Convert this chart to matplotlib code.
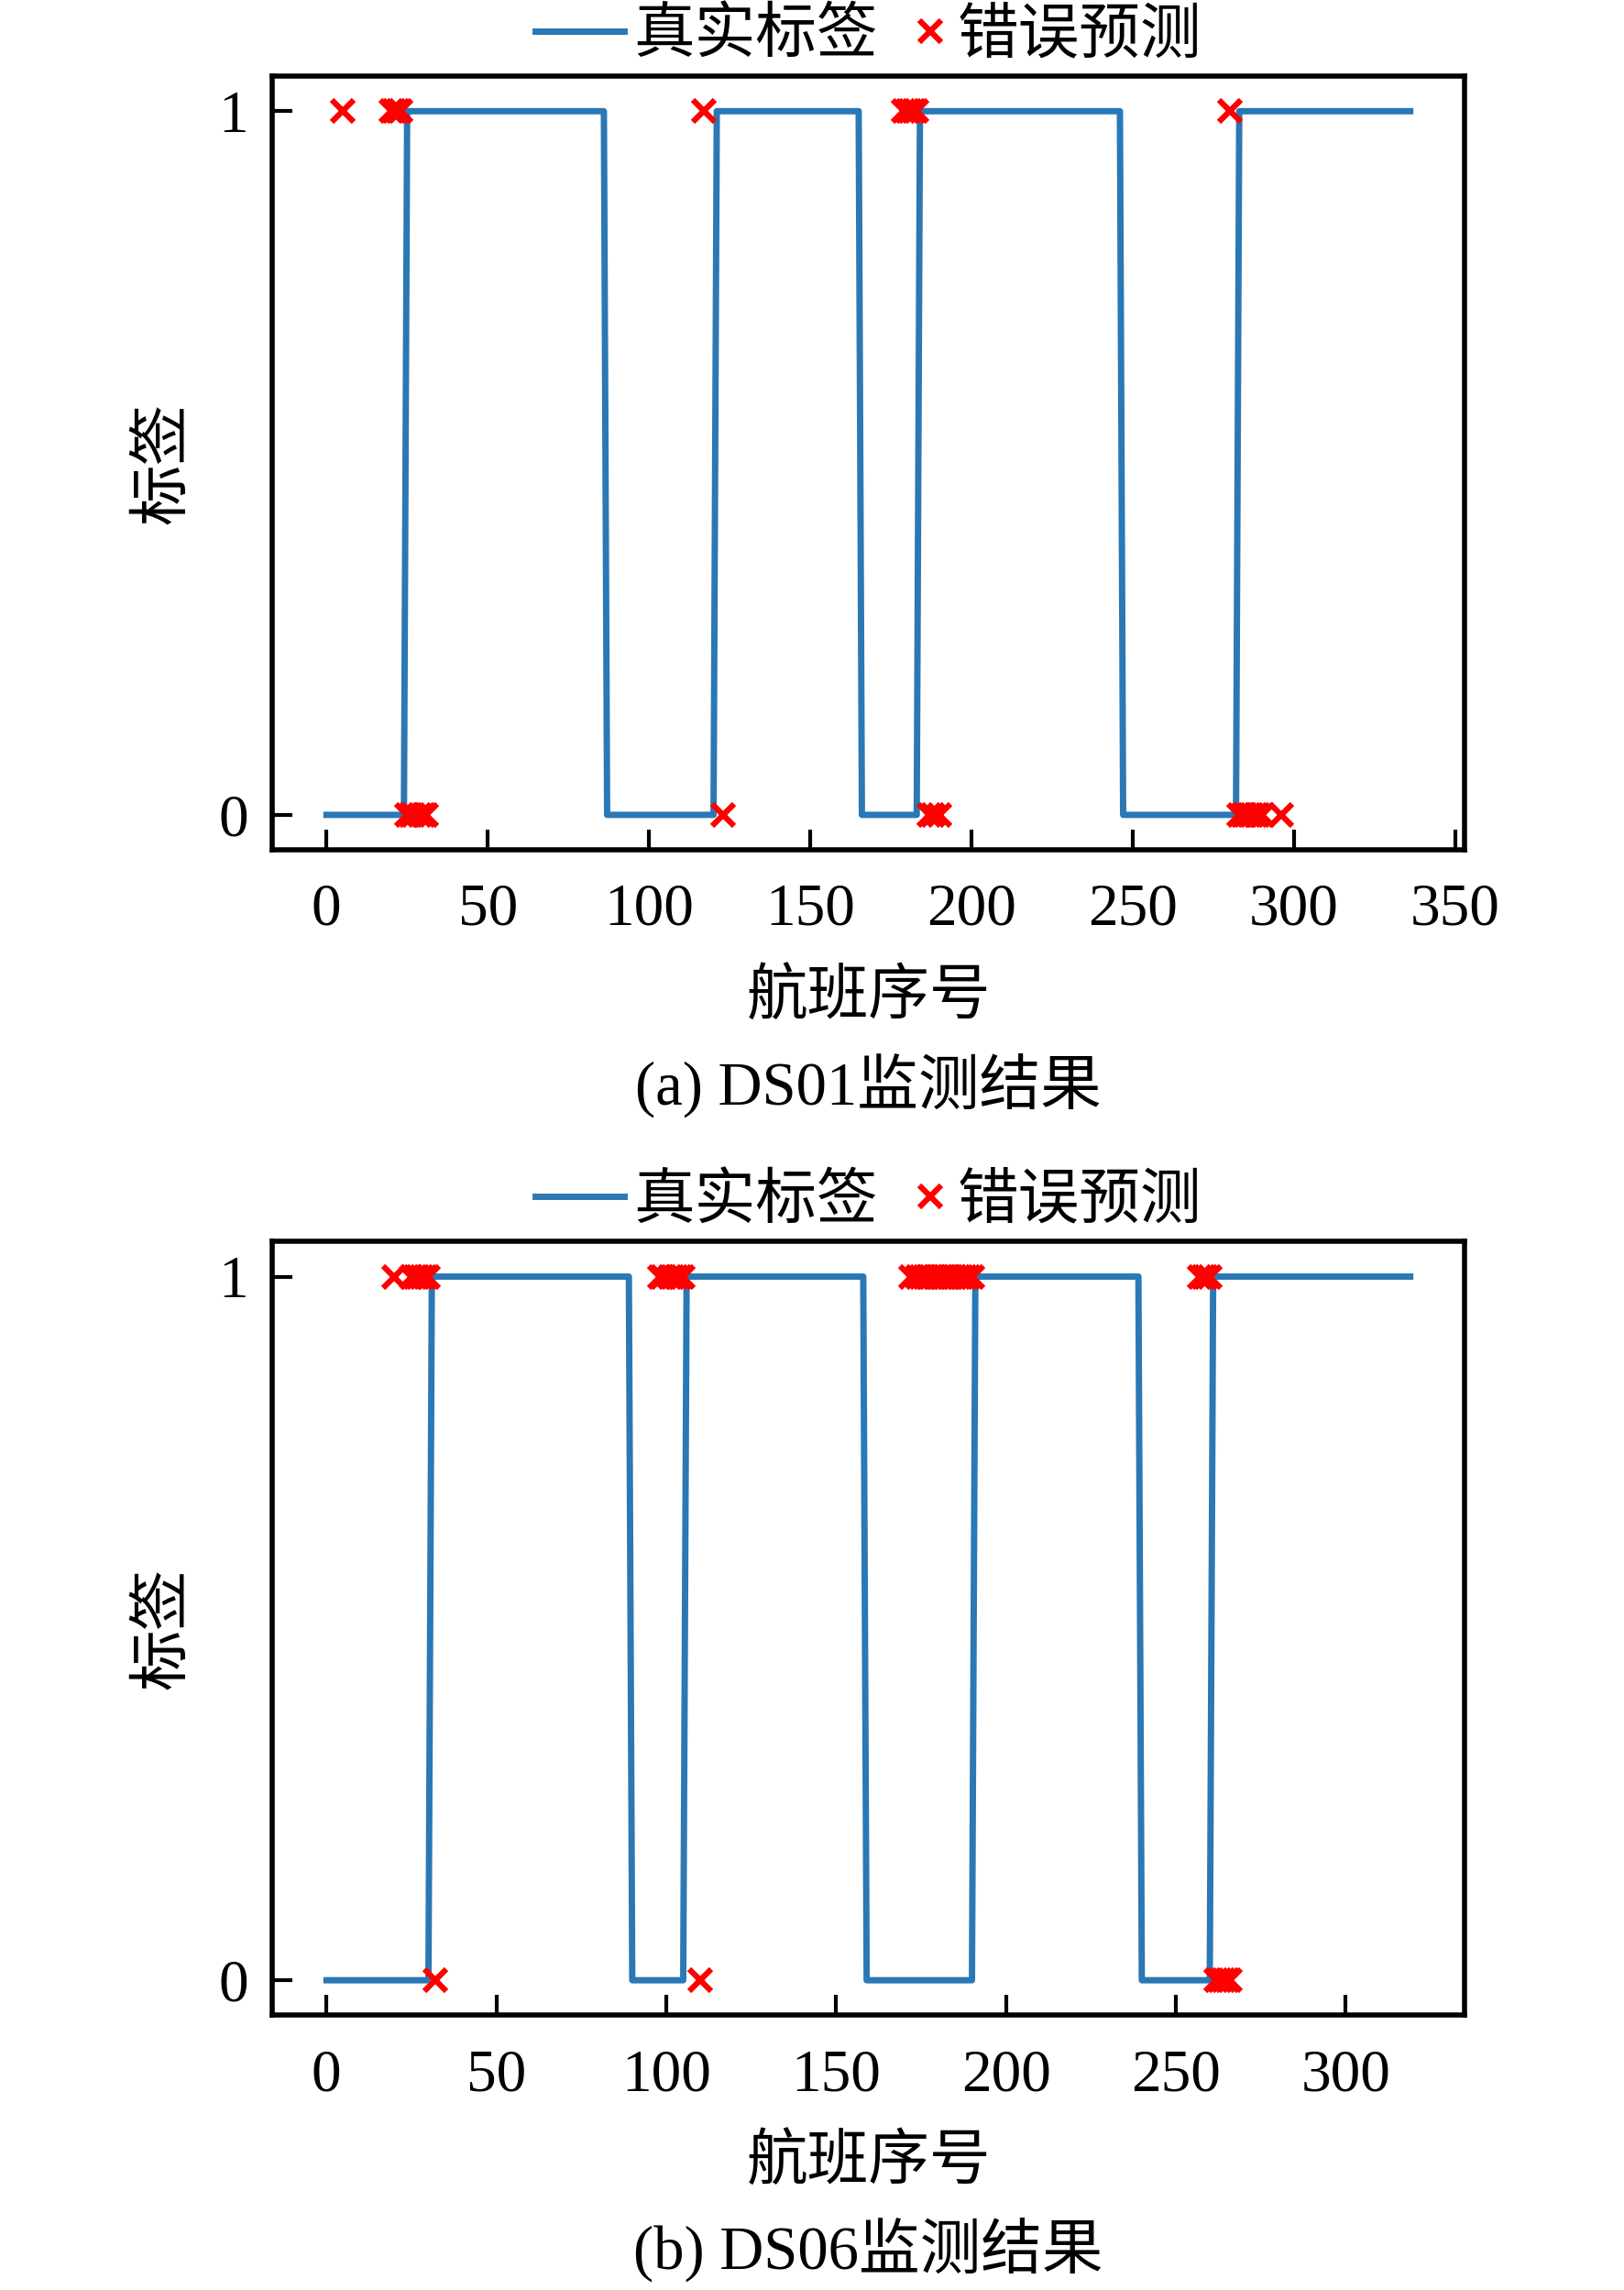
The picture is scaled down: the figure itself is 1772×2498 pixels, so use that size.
import numpy as np
import matplotlib
matplotlib.use("Agg")
import matplotlib.pyplot as plt
from matplotlib.legend_handler import HandlerLine2DCompound

plt.rcParams['font.family'] = ['Liberation Serif', 'Noto Sans CJK SC']
plt.rcParams['axes.unicode_minus'] = False

# ---------------- data ----------------
# true labels as run-length encoding: values and run lengths (flight index starts at 0)
runs_a_val = [0, 1, 0, 1, 0, 1, 0, 1]
runs_a_len = [25, 62, 34, 45, 18, 63, 36, 54]          # 337 flights: 0..336
err_a_idx = [5, 20, 21, 22, 23, 25, 26, 27, 29, 30, 31,
             117, 123,
             179, 180, 181, 182, 183, 187, 188, 190,
             280, 283, 284, 285, 286, 287, 288, 289, 290, 296]

runs_b_val = [0, 1, 0, 1, 0, 1, 0, 1]
runs_b_len = [31, 59, 16, 53, 32, 49, 21, 59]          # 320 flights: 0..319
err_b_idx = [20, 25, 26, 27, 28, 29, 30, 32,
             98, 99, 101, 102, 103, 104, 105, 110,
             172, 174, 175, 176, 177, 178, 179, 180, 181, 182, 183, 184,
             185, 186, 187, 188, 189, 190,
             257, 258, 259, 260, 262, 263, 264, 265, 266]

xticks_a = [0, 50, 100, 150, 200, 250, 300, 350]
xticks_b = [0, 50, 100, 150, 200, 250, 300]
yticks = [0, 1]
legend_labels = ['真实标签', '错误预测']
xlabel = '航班序号'
ylabel = '标签'
captions = ['(a) DS01监测结果', '(b) DS06监测结果']

# ---------------- styling ----------------
BLUE = '#2a78b5'
RED = '#ff0000'
FS_TICK = 47
FS_CJK = 48


class RightMarker(HandlerLine2DCompound):
    def get_xdata(self, legend, xdescent, ydescent, width, height, fontsize):
        xdata, _ = super().get_xdata(legend, xdescent, ydescent, width, height, fontsize)
        return xdata, np.array([0.8 * width - xdescent])


fig = plt.figure(figsize=(17.72, 24.98), dpi=100)

L, R = 0.1677, 0.9017
boxes = [(0.6288, 0.9668), (0.1199, 0.4579)]
cap_y = [0.526, 0.0179]

panels = [
    (runs_a_val, runs_a_len, err_a_idx, xticks_a),
    (runs_b_val, runs_b_len, err_b_idx, xticks_b),
]

for i, (rv, rl, eidx, xt) in enumerate(panels):
    b, t = boxes[i]
    ax = fig.add_axes([L, b, R - L, t - b])
    truth = np.repeat(rv, rl)
    x = np.arange(len(truth))
    eidx = np.array(eidx)
    pred_wrong = 1 - truth[eidx]

    ax.plot(x, truth, color=BLUE, lw=5, label=legend_labels[0], zorder=2)
    ax.plot(eidx, pred_wrong, linestyle='none', marker='x', ms=17, mew=4.5,
            color=RED, label=legend_labels[1], zorder=3)

    n = len(truth) - 1
    pad = 0.05 * n
    ax.set_xlim(-pad, n + pad)
    ax.set_ylim(-0.05, 1.05)
    ax.set_xticks(xt)
    ax.set_yticks(yticks)
    ax.tick_params(direction='in', length=16, width=3, labelsize=FS_TICK,
                   top=False, right=False)
    ax.tick_params(axis='x', pad=26)
    ax.tick_params(axis='y', pad=19)
    for s in ax.spines.values():
        s.set_linewidth(4)

    ax.set_xlabel(xlabel, fontsize=FS_CJK)
    ax.xaxis.set_label_coords(0.5, -0.192)
    ax.xaxis.label.set_verticalalignment('center')
    ax.set_ylabel(ylabel, fontsize=FS_CJK)
    ax.yaxis.set_label_coords(-0.090, 0.5)
    ax.yaxis.label.set_verticalalignment('center')

    h, lab = ax.get_legend_handles_labels()
    ax.legend(h, lab, loc='lower center', bbox_to_anchor=(0.5, 1.01),
              ncol=2, frameon=False, fontsize=FS_CJK,
              handlelength=1.45, handletextpad=0.15, columnspacing=-0.3,
              borderaxespad=0.0, borderpad=0.05,
              handler_map={h[1]: RightMarker(numpoints=1)})

    fig.text(0.5347, cap_y[i], captions[i], fontsize=FS_CJK,
             ha='center', va='center')

fig.savefig('out.png', dpi=100)
